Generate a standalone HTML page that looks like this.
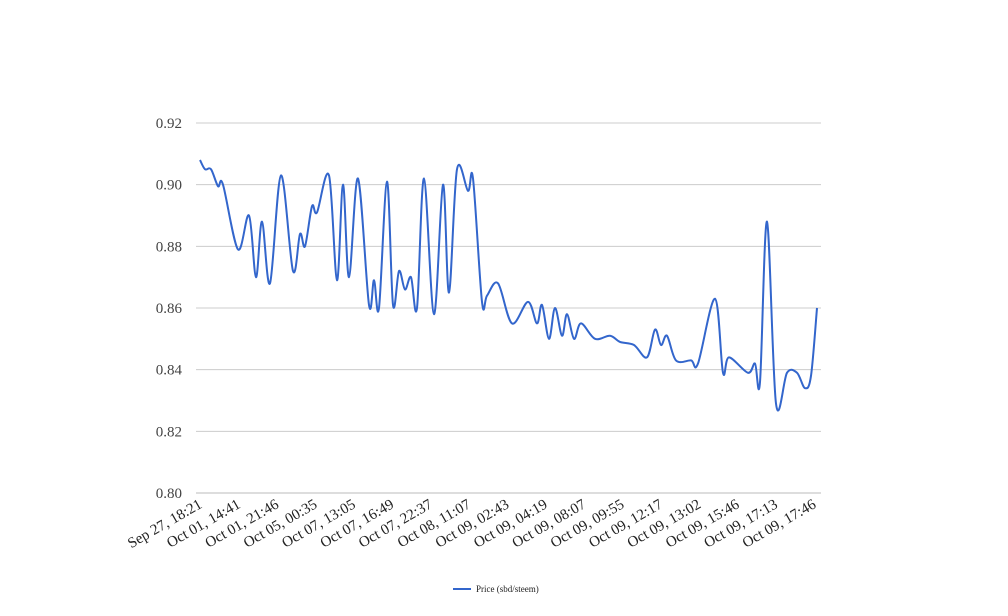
<!DOCTYPE html>
<html><head><meta charset="utf-8"><style>
body{margin:0;background:#fff;}
svg{display:block;font-family:"Liberation Serif",serif;}
</style></head><body>
<svg id="chart" width="1008" height="616"></svg>
<script>
const tickValues=[0.80,0.82,0.84,0.86,0.88,0.90,0.92];
const tickLabels=["0.80","0.82","0.84","0.86","0.88","0.90","0.92"];
const categories=["Sep 27, 18:21","Oct 01, 14:41","Oct 01, 21:46","Oct 05, 00:35","Oct 07, 13:05","Oct 07, 16:49","Oct 07, 22:37","Oct 08, 11:07","Oct 09, 02:43","Oct 09, 04:19","Oct 09, 08:07","Oct 09, 09:55","Oct 09, 12:17","Oct 09, 13:02","Oct 09, 15:46","Oct 09, 17:13","Oct 09, 17:46"];
const timeIdx=[0,5,11,18,23,38,49,56,62,70,81,93,100,105,112,117,129,137,143,149,158,169,174,179,187,193,199,205,211,217,224,234,243,249,257,268,273,282,287,298,312,328,337,342,349,355,362,367,374,381,395,410,420,434,447,455,461,467,476,491,498,515,523,529,548,555,560,567,576,587,597,605,611,617];
const prices=[0.908,0.905,0.905,0.8995,0.900,0.879,0.890,0.870,0.888,0.868,0.903,0.872,0.884,0.880,0.893,0.891,0.903,0.869,0.900,0.870,0.902,0.861,0.869,0.860,0.901,0.861,0.872,0.866,0.870,0.860,0.902,0.858,0.900,0.865,0.905,0.898,0.902,0.862,0.864,0.868,0.855,0.862,0.855,0.861,0.850,0.860,0.851,0.858,0.850,0.855,0.850,0.851,0.849,0.848,0.844,0.853,0.848,0.851,0.843,0.843,0.842,0.863,0.839,0.844,0.839,0.842,0.836,0.888,0.829,0.839,0.839,0.834,0.838,0.860];
const NS="http://www.w3.org/2000/svg";
const svg=document.getElementById('chart');
const X0=200,X1=817,Y0=493,Y1=123;
const xs=t=>X0+(t-timeIdx[0])/(timeIdx[timeIdx.length-1]-timeIdx[0])*(X1-X0);
const ys=v=>Y0-(v-0.80)/(0.92-0.80)*(Y0-Y1);
function mk(tag,attrs){const e=document.createElementNS(NS,tag);for(const k in attrs)e.setAttribute(k,attrs[k]);svg.appendChild(e);return e;}
tickValues.forEach((v,i)=>{
  const g=mk('line',{x1:196,x2:821,y1:ys(v),y2:ys(v),stroke:v===0.80?'#bbb':'#ccc','stroke-width':1});
  
  
  const t=mk('text',{x:182,y:ys(v)+5,'text-anchor':'end','font-size':15,fill:'#444'});
  t.textContent=tickLabels[i];
  
  
});
categories.forEach((c,i)=>{
  const x=203+i*(817-203)/(categories.length-1);
  const t=mk('text',{x:x,y:507,'text-anchor':'end','font-size':15,fill:'#222',transform:`rotate(-30 ${x} 507)`});
  t.textContent=c;
  
  
});
const pts=timeIdx.map((t,i)=>[xs(t),ys(prices[i])]);
let d=`M${pts[0][0]},${pts[0][1]}`;
for(let i=0;i<pts.length-1;i++){
  const p0=pts[Math.max(0,i-1)],p1=pts[i],p2=pts[i+1],p3=pts[Math.min(pts.length-1,i+2)];
  const k=0.5/3;
  d+=` C${p1[0]+(p2[0]-p0[0])*k},${p1[1]+(p2[1]-p0[1])*k} ${p2[0]-(p3[0]-p1[0])*k},${p2[1]-(p3[1]-p1[1])*k} ${p2[0]},${p2[1]}`;
}
const line=mk('path',{d:d,fill:'none',stroke:'#3366cc','stroke-width':2});


const ll=mk('line',{x1:453,x2:471,y1:589,y2:589,stroke:'#3366cc','stroke-width':2});


const lt=mk('text',{x:476,y:592,'font-size':9,fill:'#222'});
lt.textContent='Price (sbd/steem)';


</script>
</body></html>
